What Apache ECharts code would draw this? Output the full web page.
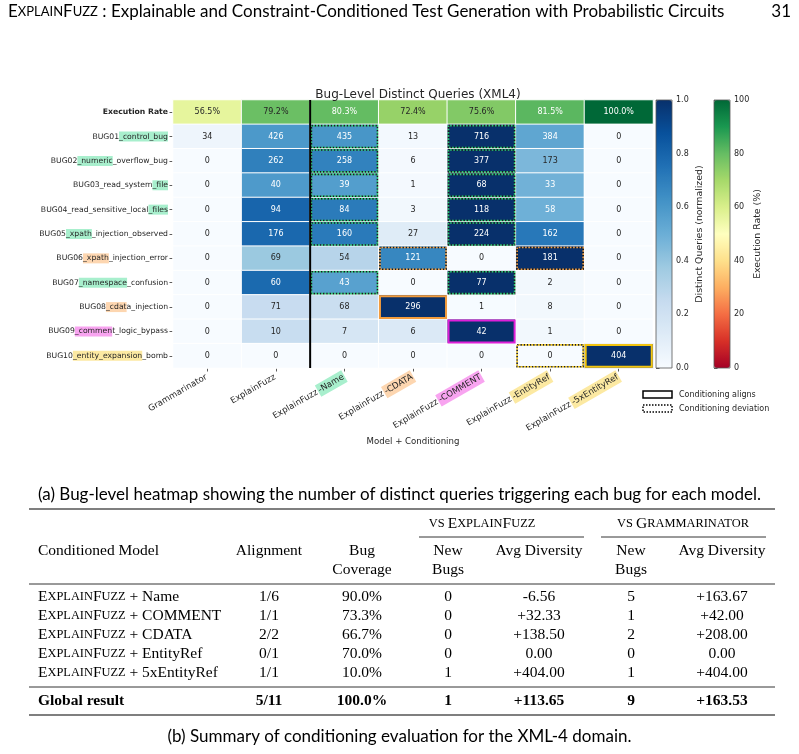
<!DOCTYPE html>
<html>
<head>
<meta charset="utf-8">
<script src="https://cdn.jsdelivr.net/npm/echarts@6/dist/echarts.min.js"></script>
<style>
  html, body { margin: 0; padding: 0; background: #fff; }
  #chart { width: 799px; height: 754px; }
</style>
</head>
<body>
<div id="chart"></div>
<script>
// ---- heatmap data ----
const models = ['Grammarinator', 'ExplainFuzz', 'ExplainFuzz-Name', 'ExplainFuzz-CDATA',
  'ExplainFuzz-COMMENT', 'ExplainFuzz-EntityRef', 'ExplainFuzz-5xEntityRef'];
// [plain, highlighted, tag]
const modelLabelParts = [
  ['Grammarinator', '', ''],
  ['ExplainFuzz', '', ''],
  ['ExplainFuzz', '-Name', 'g'],
  ['ExplainFuzz', '-CDATA', 'o'],
  ['ExplainFuzz', '-COMMENT', 'p'],
  ['ExplainFuzz', '-EntityRef', 'y'],
  ['ExplainFuzz', '-5xEntityRef', 'y']
];
const bugs = ['BUG01_control_bug', 'BUG02_numeric_overflow_bug', 'BUG03_read_system_file',
  'BUG04_read_sensitive_local_files', 'BUG05_xpath_injection_observed', 'BUG06_xpath_injection_error',
  'BUG07_namespace_confusion', 'BUG08_cdata_injection', 'BUG09_comment_logic_bypass',
  'BUG10_entity_expansion_bomb'];
// [before, highlighted, tag, after]
const bugLabelParts = [
  ['BUG01', '_control_bug', 'g', ''],
  ['BUG02', '_numeric', 'g', '_overflow_bug'],
  ['BUG03_read_system', '_file', 'g', ''],
  ['BUG04_read_sensitive_local', '_files', 'g', ''],
  ['BUG05', '_xpath', 'g', '_injection_observed'],
  ['BUG06', '_xpath', 'o', '_injection_error'],
  ['BUG07', '_namespace', 'g', '_confusion'],
  ['BUG08', '_cdat', 'o', 'a_injection'],
  ['BUG09', '_commen', 'p', 't_logic_bypass'],
  ['BUG10', '_entity_expansion', 'y', '_bomb']
];
const execRate = [56.5, 79.2, 80.3, 72.4, 75.6, 81.5, 100.0];
const bugCounts = [
  [34, 426, 435, 13, 716, 384, 0],
  [0, 262, 258, 6, 377, 173, 0],
  [0, 40, 39, 1, 68, 33, 0],
  [0, 94, 84, 3, 118, 58, 0],
  [0, 176, 160, 27, 224, 162, 0],
  [0, 69, 54, 121, 0, 181, 0],
  [0, 60, 43, 0, 77, 2, 0],
  [0, 71, 68, 296, 1, 8, 0],
  [0, 10, 7, 6, 42, 1, 0],
  [0, 0, 0, 0, 0, 0, 404]
];
// conditioning boxes: [column, bug row (1-based), color index, solid]
const condBoxes = [
  [2, 1, 0, 0], [2, 2, 0, 0], [2, 3, 0, 0], [2, 4, 0, 0], [2, 5, 0, 0], [2, 7, 0, 0],
  [3, 6, 1, 0], [3, 8, 1, 1],
  [4, 1, 0, 0], [4, 2, 0, 0], [4, 3, 0, 0], [4, 4, 0, 0], [4, 5, 0, 0], [4, 7, 0, 0], [4, 9, 2, 1],
  [5, 6, 1, 0], [5, 10, 3, 0],
  [6, 10, 3, 1]
];
const normTicks = [0, 0.2, 0.4, 0.6, 0.8, 1.0];
const rateTicks = [0, 20, 40, 60, 80, 100];

// ---- table data ----
const condNames = ['Name', 'COMMENT', 'CDATA', 'EntityRef', '5xEntityRef'];
const alignment = ['1/6', '1/1', '2/2', '0/1', '1/1'];
const coverage = [90.0, 73.3, 66.7, 70.0, 10.0];
const newBugsEF = [0, 0, 0, 0, 1];
const divEF = [-6.56, 32.33, 138.50, 0.00, 404.00];
const newBugsG = [5, 1, 2, 0, 1];
const divG = [163.67, 42.00, 208.00, 0.00, 404.00];
const globalRow = ['5/11', 100.0, 1, 113.65, 9, 163.53];

// ---- styles ----
const blues = ['#f7fbff', '#deebf7', '#c6dbef', '#9ecae1', '#6baed6', '#4292c6', '#2171b5', '#08519c', '#08306b'];
const rdylgn = ['#a50026', '#d73027', '#f46d43', '#fdae61', '#fee08b', '#ffffbf', '#d9ef8b', '#a6d96a', '#66bd63', '#1a9850', '#006837'];
const boxColors = ['#2ecc71', '#f39c3d', '#de1fd8', '#f2c40f'];
const hl = { g: '#a8efcd', o: '#fdd6b0', p: '#f8a4f0', y: '#fce9a2' };
const DARK = '#262626';
const MPL = 'DejaVu Sans';
const SERIF = '"Liberation Serif"';
const SANS = 'Lato';
const TS = 15.5; // table font size

const execData = execRate.map((v, c) => ({
  value: [c, 0, v],
  label: { color: v >= 80 ? '#ffffff' : DARK }
}));
const bugData = [];
bugCounts.forEach((row, r) => {
  const mx = Math.max(...row);
  row.forEach((v, c) => {
    const n = mx > 0 ? v / mx : 0;
    bugData.push({ value: [c, r + 1, n, v], label: { color: n > 0.47 ? '#ffffff' : DARK } });
  });
});

function richHl(size, pad) {
  const r = { b: { fontWeight: 'bold', fontSize: size, fontFamily: MPL, color: DARK } };
  Object.keys(hl).forEach(k => {
    r[k] = { backgroundColor: hl[k], fontSize: size, fontFamily: MPL, color: DARK, padding: pad };
  });
  r.n = { fontSize: size, fontFamily: MPL, color: DARK, padding: pad };
  return r;
}

function renderBox(params, api) {
  const c = api.coord([api.value(0), api.value(1)]);
  const s = api.size([1, 1]);
  const col = boxColors[api.value(2)];
  const w = s[0] - 2.5, h = s[1] - 2.5;
  const shape = { x: c[0] - w / 2, y: c[1] - h / 2, width: w, height: h };
  if (api.value(3) === 1) {
    return { type: 'rect', shape, style: { fill: 'none', stroke: col, lineWidth: 2 } };
  }
  return {
    type: 'group', children: [
      { type: 'rect', shape, style: { fill: 'none', stroke: '#1b1b1b', lineWidth: 1.6, lineDash: [1.6, 1.6] } },
      { type: 'rect', shape, style: { fill: 'none', stroke: col, lineWidth: 1.6, lineDash: [1.6, 1.6], lineDashOffset: 1.6 } }
    ]
  };
}

function renderDivider(params, api) {
  const c = api.coord([api.value(0), 0]);
  const s = api.size([1, 1]);
  const x = c[0] + s[0] / 2;
  const cs = params.coordSys;
  return { type: 'line', shape: { x1: x, y1: cs.y, x2: x, y2: cs.y + cs.height }, style: { stroke: '#000', lineWidth: 2 } };
}

// ---- page text (header, captions, table, legend) ----
function T(x, y, text, o) {
  o = o || {};
  return {
    type: 'text', x: x, y: y, silent: true,
    style: {
      text: text, fill: o.fill || '#000', align: o.align || 'left', verticalAlign: 'middle',
      fontSize: o.size || TS, fontFamily: o.family || SERIF, fontWeight: o.weight || 'normal',
      rich: o.rich
    }
  };
}
function L(x1, y1, x2, w) {
  return { type: 'line', silent: true, shape: { x1: x1, y1: y1, x2: x2, y2: y1 }, style: { stroke: '#000', lineWidth: w } };
}
const scRich = (size, weight) => ({
  c: { fontSize: size, fontFamily: SERIF, fontWeight: weight || 'normal', fill: '#000' },
  s: { fontSize: size * 0.8, fontFamily: SERIF, fontWeight: weight || 'normal', fill: '#000' }
});
const fmtDiv = v => (v > 0 ? '+' : '') + v.toFixed(2);

const colX = { model: 38, align: 269, cov: 362, nbEF: 448, dEF: 539, nbG: 631, dG: 722 };
const rowY = [597, 616, 635, 654, 673];
const graphics = [];
// running header
graphics.push(T(8, 12, '{c|E}{s|XPLAIN}{c|F}{s|UZZ}{c| : Explainable and Constraint-Conditioned Test Generation with Probabilistic Circuits}', {
  rich: {
    c: { fontSize: 17, fontFamily: SANS, fill: '#000' },
    s: { fontSize: 13, fontFamily: SANS, fill: '#000' }
  }
}));
graphics.push(T(791, 12, '31', { family: SANS, size: 17, align: 'right' }));
// legend
graphics.push({ type: 'rect', silent: true, shape: { x: 643, y: 391, width: 29, height: 7 }, style: { fill: '#fff', stroke: '#000', lineWidth: 1.5 } });
graphics.push({ type: 'rect', silent: true, shape: { x: 643, y: 405, width: 29, height: 7 }, style: { fill: '#fff', stroke: '#000', lineWidth: 1.5, lineDash: [1.5, 1.5] } });
graphics.push(T(679, 394.5, 'Conditioning aligns', { family: MPL, size: 8, fill: DARK }));
graphics.push(T(679, 408.5, 'Conditioning deviation', { family: MPL, size: 8, fill: DARK }));
// captions
graphics.push(T(399.5, 495, '(a) Bug-level heatmap showing the number of distinct queries triggering each bug for each model.', { family: SANS, size: 17, align: 'center' }));
graphics.push(T(399.5, 737, '(b) Summary of conditioning evaluation for the XML-4 domain.', { family: SANS, size: 17, align: 'center' }));
// table rules
graphics.push(L(29, 509, 775, 1.2));
graphics.push(L(419, 537, 584, 0.8));
graphics.push(L(601, 537, 766, 0.8));
graphics.push(L(29, 584, 775, 0.8));
graphics.push(L(29, 687, 775, 0.8));
graphics.push(L(29, 715, 775, 1.2));
// table header
graphics.push(T(482, 524, '{s|VS }{c|E}{s|XPLAIN}{c|F}{s|UZZ}', { align: 'center', rich: scRich(TS) }));
graphics.push(T(683, 524, '{s|VS }{c|G}{s|RAMMARINATOR}', { align: 'center', rich: scRich(TS) }));
graphics.push(T(colX.model, 551, 'Conditioned Model'));
graphics.push(T(colX.align, 551, 'Alignment', { align: 'center' }));
graphics.push(T(colX.cov, 551, 'Bug', { align: 'center' }));
graphics.push(T(colX.cov, 570, 'Coverage', { align: 'center' }));
graphics.push(T(colX.nbEF, 551, 'New', { align: 'center' }));
graphics.push(T(colX.nbEF, 570, 'Bugs', { align: 'center' }));
graphics.push(T(colX.dEF, 551, 'Avg Diversity', { align: 'center' }));
graphics.push(T(colX.nbG, 551, 'New', { align: 'center' }));
graphics.push(T(colX.nbG, 570, 'Bugs', { align: 'center' }));
graphics.push(T(colX.dG, 551, 'Avg Diversity', { align: 'center' }));
// table body
condNames.forEach((nm, i) => {
  const y = rowY[i];
  graphics.push(T(colX.model, y, '{c|E}{s|XPLAIN}{c|F}{s|UZZ}{c| + ' + nm + '}', { rich: scRich(TS) }));
  graphics.push(T(colX.align, y, alignment[i], { align: 'center' }));
  graphics.push(T(colX.cov, y, coverage[i].toFixed(1) + '%', { align: 'center' }));
  graphics.push(T(colX.nbEF, y, String(newBugsEF[i]), { align: 'center' }));
  graphics.push(T(colX.dEF, y, fmtDiv(divEF[i]), { align: 'center' }));
  graphics.push(T(colX.nbG, y, String(newBugsG[i]), { align: 'center' }));
  graphics.push(T(colX.dG, y, fmtDiv(divG[i]), { align: 'center' }));
});
const gy = 701, B = { weight: 'bold', align: 'center' };
graphics.push(T(colX.model, gy, 'Global result', { weight: 'bold' }));
graphics.push(T(colX.align, gy, globalRow[0], B));
graphics.push(T(colX.cov, gy, globalRow[1].toFixed(1) + '%', B));
graphics.push(T(colX.nbEF, gy, String(globalRow[2]), B));
graphics.push(T(colX.dEF, gy, fmtDiv(globalRow[3]), B));
graphics.push(T(colX.nbG, gy, String(globalRow[4]), B));
graphics.push(T(colX.dG, gy, fmtDiv(globalRow[5]), B));

// ---- chart ----
const chart = echarts.init(document.getElementById('chart'));
const colorbarAxis = (ticks, name, fmt) => ({
  type: 'value', position: 'right', min: ticks[0], max: ticks[ticks.length - 1],
  interval: ticks[1] - ticks[0],
  axisLine: { show: false },
  axisTick: { show: true, length: 3.5, lineStyle: { color: '#333', width: 0.8 } },
  axisLabel: { fontSize: 8, fontFamily: MPL, color: DARK, margin: 4, formatter: fmt },
  splitLine: { show: false },
  name: name, nameLocation: 'middle', nameRotate: 90, nameGap: 23,
  nameTextStyle: { fontSize: 9.4, fontFamily: MPL, color: DARK }
});

chart.setOption({
  animation: false,
  backgroundColor: '#fff',
  title: {
    text: 'Bug-Level Distinct Queries (XML4)', left: 413, top: 84, textAlign: 'center',
    textStyle: { fontSize: 12, fontFamily: MPL, fontWeight: 'normal', color: DARK }
  },
  grid: [
    { left: 173, top: 100, width: 480, height: 268 },
    { left: 656, top: 100, width: 16, height: 268, show: true, z: 6, borderColor: '#555', borderWidth: 0.8, backgroundColor: 'transparent' },
    { left: 714, top: 100, width: 16, height: 268, show: true, z: 6, borderColor: '#555', borderWidth: 0.8, backgroundColor: 'transparent' }
  ],
  xAxis: [
    {
      type: 'category', gridIndex: 0, data: models,
      axisLine: { show: false },
      axisTick: { show: true, alignWithLabel: true, length: 3.5, lineStyle: { color: '#333', width: 0.8 } },
      axisLabel: {
        rotate: 30, margin: 8, interval: 0, fontSize: 8.6, fontFamily: MPL, color: DARK,
        formatter: (v, i) => {
          const p = modelLabelParts[i];
          return '{n|' + p[0] + '}' + (p[1] ? '{' + p[2] + '|' + p[1] + '}' : '');
        },
        rich: richHl(8.6, [2, 1, 2, 1])
      },
      name: 'Model + Conditioning', nameLocation: 'middle', nameGap: 63,
      nameTextStyle: { fontSize: 8.6, fontFamily: MPL, color: DARK },
      splitLine: { show: false }
    },
    { type: 'value', gridIndex: 1, show: false, min: 0, max: 1 },
    { type: 'value', gridIndex: 2, show: false, min: 0, max: 1 }
  ],
  yAxis: [
    {
      type: 'category', gridIndex: 0, inverse: true, data: ['Execution Rate'].concat(bugs),
      axisLine: { show: false },
      axisTick: { show: true, alignWithLabel: true, length: 3.5, lineStyle: { color: '#333', width: 0.8 } },
      axisLabel: {
        margin: 5, interval: 0, fontSize: 7.7, fontFamily: MPL, color: DARK,
        formatter: (v, i) => {
          if (i === 0) return '{b|Execution Rate}';
          const p = bugLabelParts[i - 1];
          let s = '{n|' + p[0] + '}{' + p[2] + '|' + p[1] + '}';
          if (p[3]) s += '{n|' + p[3] + '}';
          return s;
        },
        rich: richHl(7.7, [1, 0, 1, 0])
      },
      splitLine: { show: false }
    },
    Object.assign({ gridIndex: 1 }, colorbarAxis(normTicks, 'Distinct Queries (normalized)', v => v.toFixed(1))),
    Object.assign({ gridIndex: 2 }, colorbarAxis(rateTicks, 'Execution Rate (%)', v => String(v)))
  ],
  visualMap: [
    {
      type: 'continuous', seriesIndex: 1, dimension: 2, min: 0, max: 1,
      inRange: { color: blues }, orient: 'vertical', left: 656, top: 100,
      itemWidth: 16, itemHeight: 268, padding: 0, calculable: false, hoverLink: false, text: null
    },
    {
      type: 'continuous', seriesIndex: 0, dimension: 2, min: 0, max: 100,
      inRange: { color: rdylgn }, orient: 'vertical', left: 714, top: 100,
      itemWidth: 16, itemHeight: 268, padding: 0, calculable: false, hoverLink: false, text: null
    }
  ],
  series: [
    {
      name: 'Execution Rate', type: 'heatmap', xAxisIndex: 0, yAxisIndex: 0, data: execData,
      itemStyle: { borderColor: '#fff', borderWidth: 1 },
      label: { show: true, fontSize: 8, fontFamily: MPL, formatter: p => p.value[2].toFixed(1) + '%' },
      emphasis: { disabled: true }
    },
    {
      name: 'Distinct Queries', type: 'heatmap', xAxisIndex: 0, yAxisIndex: 0, data: bugData,
      itemStyle: { borderColor: '#fff', borderWidth: 1 },
      label: { show: true, fontSize: 8, fontFamily: MPL, formatter: p => String(p.value[3]) },
      emphasis: { disabled: true }
    },
    {
      type: 'custom', xAxisIndex: 0, yAxisIndex: 0, data: condBoxes, renderItem: renderBox,
      silent: true, z: 5
    },
    {
      type: 'custom', xAxisIndex: 0, yAxisIndex: 0, data: [[1, 0]], renderItem: renderDivider,
      silent: true, z: 6
    }
  ],
  graphic: graphics
});
</script>
</body>
</html>
